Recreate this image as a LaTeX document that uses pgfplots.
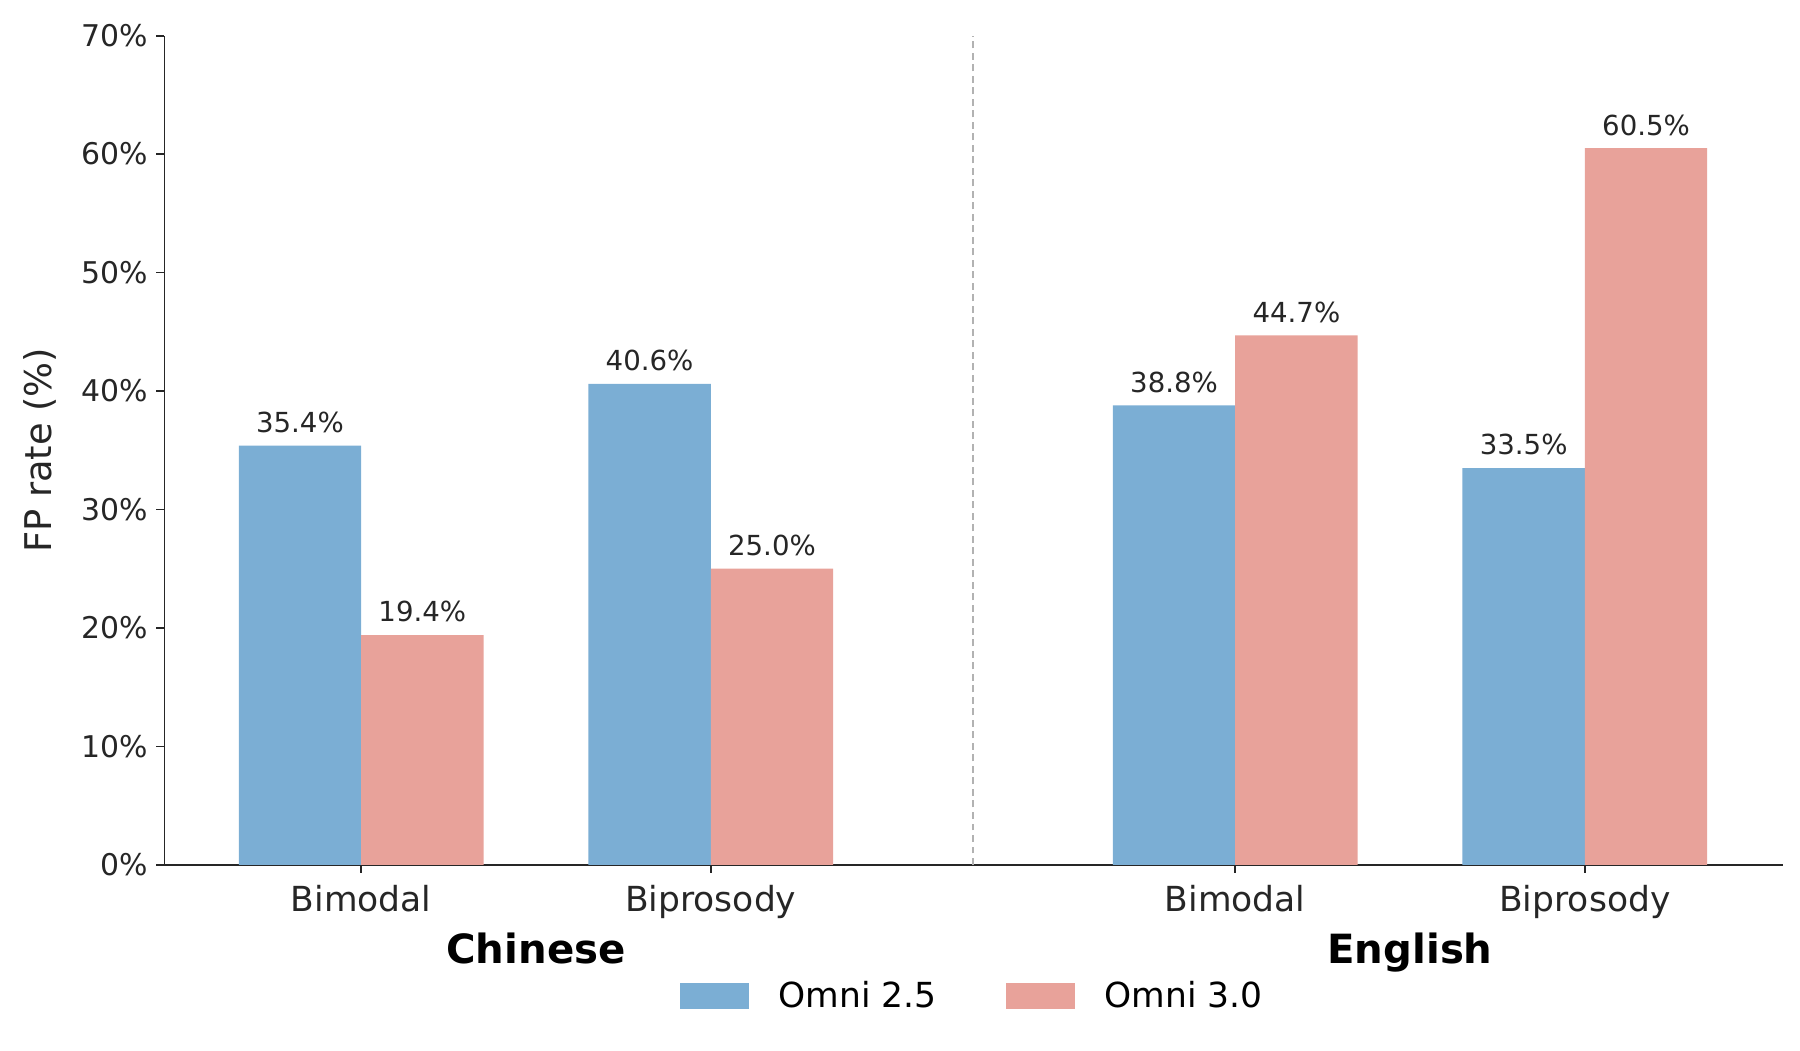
\documentclass[border=0pt]{standalone}
\usepackage{pgfplots}
\pgfplotsset{compat=1.18}
\usepackage{fontspec}
\setmainfont{DejaVu Sans}

\definecolor{omniA}{HTML}{7BAED4}
\definecolor{omniB}{HTML}{E8A29A}
\definecolor{txt}{HTML}{262626}

\begin{document}
\begin{tikzpicture}
\begin{axis}[
  scale only axis, width=703.5pt, height=360.5pt,
  xmin=-0.5625, xmax=4.066, ymin=0, ymax=70,
  axis x line*=bottom, axis y line*=left,
  axis line style={black!85, line width=0.8pt},
  ybar, bar width=0.35,
  xtick={0,1,2.5,3.5},
  xticklabels={Bimodal,Biprosody,Bimodal,Biprosody},
  ytick={0,10,...,70},
  yticklabel={\pgfmathprintnumber{\tick}\%},
  /pgf/number format/assume math mode=true,
  tick align=outside, major tick length=3.5pt,
  tick style={black!85, line width=0.8pt},
  xticklabel style={font=\fontsize{15}{18}\selectfont, text=txt, yshift=-2pt},
  yticklabel style={font=\fontsize{13}{15}\selectfont, text=txt},
  nodes near coords={\pgfmathprintnumber[fixed,fixed zerofill,precision=1]{\pgfplotspointmeta}\%},
  every node near coord/.append style={font=\fontsize{12}{14}\selectfont, text=txt, yshift=2pt},
  legend style={at={(0.5,0)}, yshift=-57pt, anchor=center, draw=none,
    legend columns=2, font=\fontsize{15}{18}\selectfont,
    /tikz/every odd column/.append style={column sep=11pt},
    /tikz/every even column/.append style={column sep=28pt}},
  legend image code/.code={\fill[#1] (0pt,-5.5pt) rectangle (30pt,5.5pt);},
  clip=false,
]
\addplot[fill=omniA, draw=none, bar shift=-0.175]
  coordinates {(0,35.4) (1,40.6) (2.5,38.8) (3.5,33.5)};
\addlegendentry{Omni 2.5}
\addplot[fill=omniB, draw=none, bar shift=0.175]
  coordinates {(0,19.4) (1,25.0) (2.5,44.7) (3.5,60.5)};
\addlegendentry{Omni 3.0}

% divider between the language groups
\draw[black!30, line width=0.6pt, dash pattern=on 3pt off 2pt]
  (axis cs:1.75,0) -- (axis cs:1.75,70);

\node[anchor=base, font=\bfseries\fontsize{17.5}{20}\selectfont]
  at ([yshift=-43pt]axis cs:0.5,0) {Chinese};
\node[anchor=base, font=\bfseries\fontsize{17.5}{20}\selectfont]
  at ([yshift=-43pt]axis cs:3,0) {English};
\node[rotate=90, font=\fontsize{16}{19}\selectfont, text=txt]
  at ([xshift=-54pt]rel axis cs:0,0.5) {FP rate (\%)};
\end{axis}
\path (current axis.south west) ++(-71.5pt,-80.5pt) rectangle ++(782.5pt,456.5pt);
\end{tikzpicture}
\end{document}
